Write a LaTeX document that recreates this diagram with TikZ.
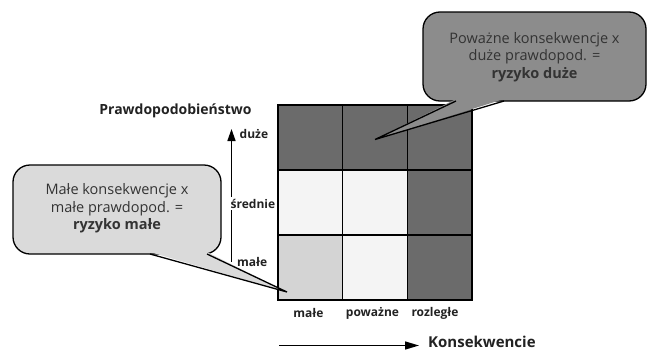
\documentclass[tikz,border=0pt]{standalone}
\usepackage{fontspec}
\setmainfont{Open Sans}
\usetikzlibrary{arrows.meta}
\definecolor{cdark}{HTML}{6B6B6B}
\definecolor{cwhite}{HTML}{F4F4F4}
\definecolor{clight}{HTML}{D4D4D4}
\definecolor{callR}{HTML}{8C8C8C}
\definecolor{callL}{HTML}{DADADA}
\definecolor{ctext}{HTML}{333333}
\definecolor{clab}{HTML}{222222}
\tikzset{
  cell/.style={draw=black, line width=1.6pt, minimum width=64.67pt, minimum height=65pt, inner sep=0pt, outer sep=0pt},
  bubble/.style={draw=black, line width=1.3pt, rounded corners=17pt},
  ptr/.style={draw=black, line width=1.3pt, line join=miter},
  btext/.style={align=center, text=ctext, font=\fontsize{14.5}{17.3}\selectfont, inner sep=0pt},
  lab/.style={text=clab, font=\bfseries\fontsize{12}{14}\selectfont, inner sep=0pt},
  axlab/.style={text=clab, font=\bfseries\fontsize{14}{16}\selectfont, inner sep=0pt},
}
\begin{document}
\begin{tikzpicture}[x=1pt,y=-1pt]
\useasboundingbox[fill=white] (0,0) rectangle (647,351);
% grid
\node[cell, fill=cdark]  (c11) at (310.3,137.5) {};
\node[cell, fill=cdark]  (c12) at (375.0,137.5) {};
\node[cell, fill=cdark]  (c13) at (439.7,137.5) {};
\node[cell, fill=cwhite] (c21) at (310.3,202.5) {};
\node[cell, fill=cwhite] (c22) at (375.0,202.5) {};
\node[cell, fill=cdark]  (c23) at (439.7,202.5) {};
\node[cell, fill=clight] (c31) at (310.3,267.5) {};
\node[cell, fill=cwhite] (c32) at (375.0,267.5) {};
\node[cell, fill=cdark]  (c33) at (439.7,267.5) {};
% axes
\coordinate (va) at (231.5,262);
\coordinate (vb) at (231.5,129);
\draw[line width=1.5pt, -{Triangle[length=12pt,width=8pt]}] (va) -- (vb);
\node[lab, anchor=west] (ldu) at (239.5,133.5) {duże};
\node[lab, anchor=west, fill=white, inner ysep=2pt] (lsr) at (230.5,203.5) {średnie};
\node[lab, anchor=west] (lma) at (237,261.5) {małe};
\node[axlab] (py) at (175.5,110.5) {Prawdopodobieństwo};
\node[lab] (xm) at (308.5,313) {małe};
\node[lab] (xp) at (372.5,313) {poważne};
\node[lab] (xr) at (435,313) {rozległe};
\coordinate (ha) at (279,345.5);
\coordinate (hb) at (419,345.5);
\draw[line width=1.5pt, -{Triangle[length=14pt,width=8pt]}] (ha) -- (hb);
\node[axlab, anchor=west, font=\bfseries\fontsize{15}{18}\selectfont] (px) at (428,342) {Konsekwencie};
% right callout
\coordinate (rt) at (375,139.5);
\coordinate (ra) at (456,101);
\coordinate (rb) at (504,101);
\draw[bubble, fill=callR] (423,12) rectangle (646,101);
\fill[callR] (456,99) -- (rt) -- (504,99) -- cycle;
\draw[ptr] (ra) -- (rt) -- (rb);
\node[btext] (rtx) at (534.5,57) {Poważne konsekwencje x\\duże prawdopod. =\\\textbf{ryzyko duże}};
% left callout
\coordinate (lt) at (287,292);
\coordinate (la) at (150,254);
\coordinate (lb) at (207,254);
\draw[bubble, fill=callL] (13,165) rectangle (221,254);
\fill[callL] (150,252) -- (lt) -- (207,252) -- cycle;
\draw[ptr] (la) -- (lt) -- (lb);
\node[btext] (ltx) at (117,208.5) {Małe konsekwencje x\\małe prawdopod. =\\\textbf{ryzyko małe}};
\end{tikzpicture}
\end{document}
